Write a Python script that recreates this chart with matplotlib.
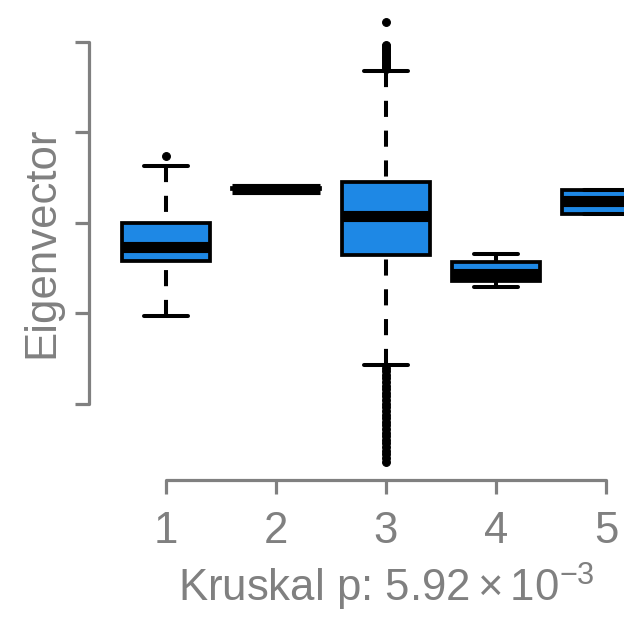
import matplotlib
matplotlib.use("Agg")
import matplotlib.pyplot as plt

# ---- data (y in tick units) ----
groups = ["1", "2", "3", "4", "5"]
q1 = [1.578, 2.372, 1.650, 1.356, 2.100]
med = [1.733, 2.378, 2.074, 1.440, 2.239]
q3 = [2.000, 2.384, 2.450, 1.567, 2.367]
whislo = [0.967, 2.372, 0.433, 1.289, 2.100]
whishi = [2.626, 2.384, 3.681, 1.656, 2.367]
fliers_1 = [2.740]
fliers_2 = []
fliers_3 = [3.70, 3.72, 3.74, 3.76, 3.78, 3.80, 3.82, 3.84, 3.86, 3.88,
            3.90, 3.92, 3.94, 3.96, 3.97, 4.222,
            0.40, 0.36, 0.32, 0.28, 0.24, 0.20, 0.16, 0.12, 0.08, 0.04,
            0.00, -0.04, -0.08, -0.12, -0.16, -0.20, -0.24, -0.28, -0.32,
            -0.36, -0.40, -0.44, -0.48, -0.52, -0.56, -0.60, -0.64]
fliers_4 = []
fliers_5 = []
fliers = [fliers_1, fliers_2, fliers_3, fliers_4, fliers_5]
y_ticks = [0, 1, 2, 3, 4]
x_label = r"Kruskal p: $\mathregular{5.92\times10^{-3}}$"
y_label = "Eigenvector"

# ---- style ----
plt.rcParams["font.family"] = ["Liberation Sans", "DejaVu Sans"]
plt.rcParams["mathtext.fontset"] = "custom"
plt.rcParams["mathtext.rm"] = "Liberation Sans"
plt.rcParams["mathtext.it"] = "Liberation Sans:italic"
gray = "#808080"
blue = "#1E88E5"
fs = 31.5

fig = plt.figure(figsize=(6.24, 6.19), dpi=100)
ax = fig.add_axes([89 / 624, (619 - 480) / 619, 594 / 624, 475.6 / 619])

stats = []
for i, g in enumerate(groups):
    stats.append(dict(label=g, q1=q1[i], med=med[i], q3=q3[i],
                      whislo=whislo[i], whishi=whishi[i], fliers=fliers[i]))

positions = list(range(1, len(groups) + 1))
lw = 2.9
res = ax.bxp(stats, positions=positions, widths=0.8, patch_artist=True,
             boxprops=dict(facecolor=blue, edgecolor="black", linewidth=2.7),
             medianprops=dict(color="black", linewidth=8, solid_capstyle="butt"),
             whiskerprops=dict(color="black", linewidth=lw, linestyle=(0, (4.0, 3.4))),
             capprops=dict(color="black", linewidth=lw, solid_capstyle="round"),
             flierprops=dict(marker="o", markerfacecolor="black", markeredgecolor="black",
                             markersize=5.6, markeredgewidth=0.8, linestyle="none"))
# draw whiskers from the cap toward the box (dash phase as in reference)
for wl in res["whiskers"]:
    x, y = wl.get_data()
    wl.set_data(list(x)[::-1], list(y)[::-1])

ax.set_xlim(0.3, 5.7)
ax.set_ylim(-0.844, 4.417)

for s in ["top", "right"]:
    ax.spines[s].set_visible(False)
ax.spines["left"].set_bounds(y_ticks[0], y_ticks[-1])
ax.spines["bottom"].set_bounds(positions[0], positions[-1])
for s in ["left", "bottom"]:
    ax.spines[s].set_color(gray)
    ax.spines[s].set_linewidth(2.3)
    ax.spines[s].set_capstyle("round")

ax.set_xticks(positions)
ax.set_xticklabels(groups)
ax.set_yticks(y_ticks)
ax.tick_params(axis="x", length=10, width=2.3, color=gray, labelcolor=gray,
               labelsize=fs, pad=12)
ax.tick_params(axis="y", length=10, width=2.3, color=gray, labelleft=False)

ax.set_xlabel(x_label, fontsize=fs, color=gray, va="baseline")
ax.xaxis.set_label_coords(0.5, (480 - 602) / 475.6)
ax.set_ylabel(y_label, fontsize=fs, color=gray, va="baseline")
ax.yaxis.set_label_coords((53 - 89) / 594, 0.5)

fig.savefig("out.png", dpi=100)
